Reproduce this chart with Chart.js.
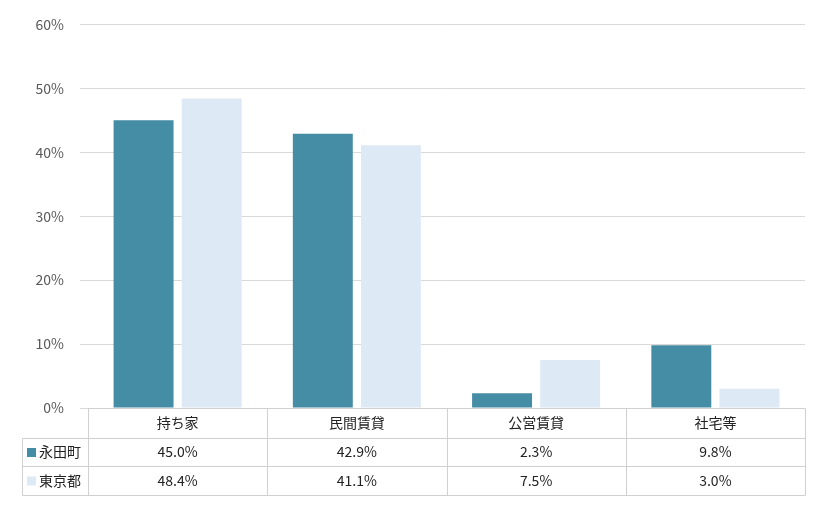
<!DOCTYPE html>
<html><head><meta charset="utf-8">
<script src="https://cdn.jsdelivr.net/npm/chart.js@4"></script>
<style>body{margin:0;background:#fff}#w{width:820px;height:510px}</style>
</head><body><div id="w"><canvas id="c"></canvas></div>
<script>
const categories=['持ち家','民間賃貸','公営賃貸','社宅等'];
const seriesNames=['永田町','東京都'];
const nagatacho=[45.0,42.9,2.3,9.8];
const tokyo=[48.4,41.1,7.5,3.0];
const colors=['#458CA5','#DDE9F5'];
const FONT='"Noto Sans CJK JP","Noto Sans",sans-serif';
const tablePlugin={id:'table',afterDraw(chart){
 const ctx=chart.ctx,x=chart.scales.x,a=chart.chartArea;
 const top=a.bottom,r1=top+30,r2=r1+28,r3=r2+29,left=22;
 const bounds=[a.left];
 categories.forEach((c,i)=>bounds.push(a.left+(a.right-a.left)*(i+1)/categories.length));
 ctx.save();ctx.strokeStyle='#d0d0d0';ctx.lineWidth=1;
 const L=(x1,y1,x2,y2)=>{ctx.beginPath();ctx.moveTo(Math.round(x1)+.5,Math.round(y1)+.5);ctx.lineTo(Math.round(x2)+.5,Math.round(y2)+.5);ctx.stroke();};
 L(a.left,top,a.right,top);L(left,r1,a.right,r1);L(left,r2,a.right,r2);L(left,r3,a.right,r3);
 L(left,r1,left,r3);
 bounds.forEach(b=>L(b,top,b,r3));
 ctx.fillStyle='#222';ctx.font='14px '+FONT;ctx.textAlign='center';ctx.textBaseline='middle';
 const data=[nagatacho,tokyo],rows=[[r1,r2],[r2,r3]];
 categories.forEach((c,i)=>{const cx=x.getPixelForValue(i);
  ctx.fillText(c,cx,(top+r1)/2);
  data.forEach((d,j)=>ctx.fillText(d[i].toFixed(1)+'%',cx,(rows[j][0]+rows[j][1])/2));});
 ctx.textAlign='left';
 seriesNames.forEach((n,j)=>{const cy=(rows[j][0]+rows[j][1])/2;
  ctx.fillStyle=colors[j];ctx.fillRect(27,cy-4,9,9);
  ctx.fillStyle='#222';ctx.fillText(n,39,cy);});
 ctx.restore();}};
new Chart(document.getElementById('c'),{type:'bar',
 data:{labels:categories,datasets:[
  {label:seriesNames[0],data:nagatacho,backgroundColor:colors[0]},
  {label:seriesNames[1],data:tokyo,backgroundColor:colors[1]}]},
 options:{responsive:true,maintainAspectRatio:false,animation:false,
  layout:{padding:{left:8,right:15,top:9,bottom:94}},
  datasets:{bar:{categoryPercentage:0.76,barPercentage:0.88}},
  plugins:{legend:{display:false},tooltip:{enabled:false}},
  scales:{
   x:{grid:{display:false},border:{display:false},ticks:{display:false}},
   y:{min:0,max:60,ticks:{stepSize:10,callback:v=>v+'%',color:'#595959',font:{size:14,family:FONT},padding:16},
      grid:{color:'#d9d9d9'},border:{display:false},afterFit(s){s.width=80;}}}},
 plugins:[tablePlugin]});
</script></body></html>
